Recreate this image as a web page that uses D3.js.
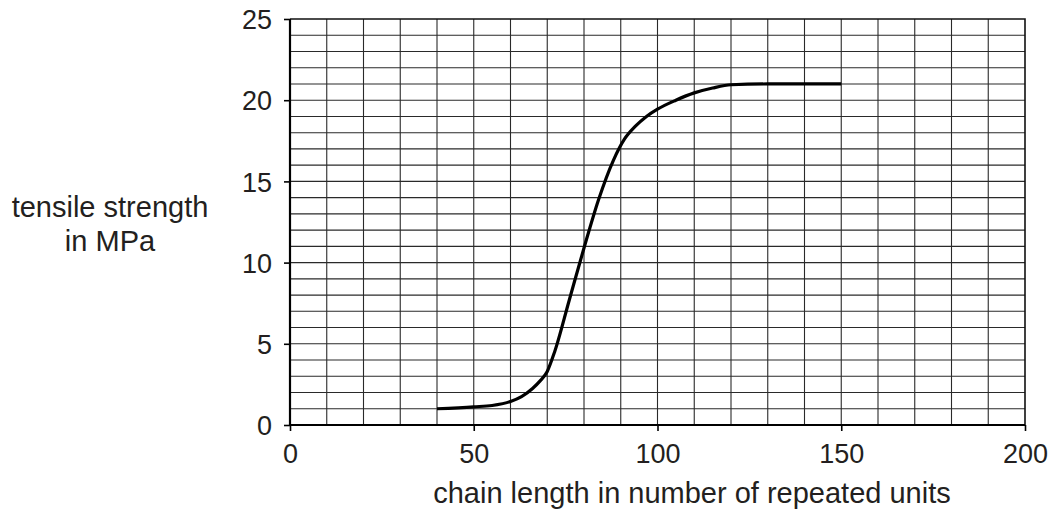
<!DOCTYPE html>
<html>
<head>
<meta charset="utf-8">
<script src="https://cdn.jsdelivr.net/npm/d3@7"></script>
<style>
  body { margin: 0; background: #fff; }
  text { font-family: "Liberation Sans", Arial, Helvetica, sans-serif; fill: #231f20; }
</style>
</head>
<body>
<div id="chart"></div>
<script>
// chain length (repeated units) and tensile strength (MPa)
const chainLength = [40, 50, 55, 60, 63, 66, 68, 70, 72, 76, 80, 84, 88, 91, 94, 97, 100, 105, 110, 115, 120, 130, 140, 150];
const strength    = [1.0, 1.12, 1.2, 1.45, 1.75, 2.25, 2.7, 3.3, 4.5, 7.7, 10.9, 13.9, 16.3, 17.6, 18.4, 19.0, 19.45, 20.0, 20.45, 20.75, 20.95, 21, 21, 21];

const xTicks = [0, 50, 100, 150, 200];
const yTicks = [0, 5, 10, 15, 20, 25];

const width = 1056, height = 514;
const margin = { left: 290, right: 31, top: 19, bottom: 89 };

const svg = d3.select("#chart")
    .append("svg")
    .attr("width", width)
    .attr("height", height);

const x = d3.scaleLinear().domain([0, 200]).range([margin.left, width - margin.right]);
const y = d3.scaleLinear().domain([0, 25]).range([height - margin.bottom, margin.top]);

// Grid: every 10 units across, every 1 MPa up
const grid = svg.append("g").attr("stroke", "#2a2a2a").attr("stroke-width", 1.1);
grid.selectAll("line.v")
    .data(d3.range(10, 200, 10))
    .enter().append("line")
    .attr("x1", d => x(d)).attr("x2", d => x(d))
    .attr("y1", y(0)).attr("y2", y(25));
grid.selectAll("line.h")
    .data(d3.range(1, 25, 1))
    .enter().append("line")
    .attr("x1", x(0)).attr("x2", x(200))
    .attr("y1", d => y(d)).attr("y2", d => y(d));

// Top and right border
svg.append("path")
    .attr("d", `M${x(0)},${y(25)}H${x(200)}V${y(0)}`)
    .attr("fill", "none")
    .attr("stroke", "#111")
    .attr("stroke-width", 1.6);

// Axes
const xAxis = svg.append("g")
    .attr("transform", `translate(0,${y(0)})`)
    .call(d3.axisBottom(x).tickValues(xTicks).tickSize(6).tickPadding(8));
const yAxis = svg.append("g")
    .attr("transform", `translate(${x(0)},0)`)
    .call(d3.axisLeft(y).tickValues(yTicks).tickSize(6).tickPadding(12));

[xAxis, yAxis].forEach(a => {
    a.select(".domain").attr("stroke", "#000").attr("stroke-width", 2.2);
    a.selectAll(".tick line").attr("stroke", "#000").attr("stroke-width", 1.6);
    a.selectAll(".tick text").style("font-size", "27px").attr("fill", "#231f20");
});
xAxis.select(".domain").attr("d", `M${x(0)},0H${x(200)}`);
yAxis.select(".domain").attr("d", `M0,${y(0)}V${y(25)}`);
xAxis.selectAll(".tick text").attr("dy", "0.9em");
yAxis.selectAll(".tick text").attr("dy", "0.36em");

// Curve
const line = d3.line()
    .x((d, i) => x(chainLength[i]))
    .y(d => y(d))
    .curve(d3.curveMonotoneX);

svg.append("path")
    .datum(strength)
    .attr("d", line)
    .attr("fill", "none")
    .attr("stroke", "#000")
    .attr("stroke-width", 3.2)
    .attr("stroke-linejoin", "round");

// Axis titles
svg.append("text")
    .attr("x", 692).attr("y", 503)
    .attr("text-anchor", "middle")
    .style("font-size", "29px")
    .text("chain length in number of repeated units");

const yTitle = svg.append("text")
    .attr("text-anchor", "middle")
    .style("font-size", "29px");
yTitle.append("tspan").attr("x", 110).attr("y", 217).text("tensile strength");
yTitle.append("tspan").attr("x", 110).attr("y", 251).text("in MPa");
</script>
</body>
</html>
